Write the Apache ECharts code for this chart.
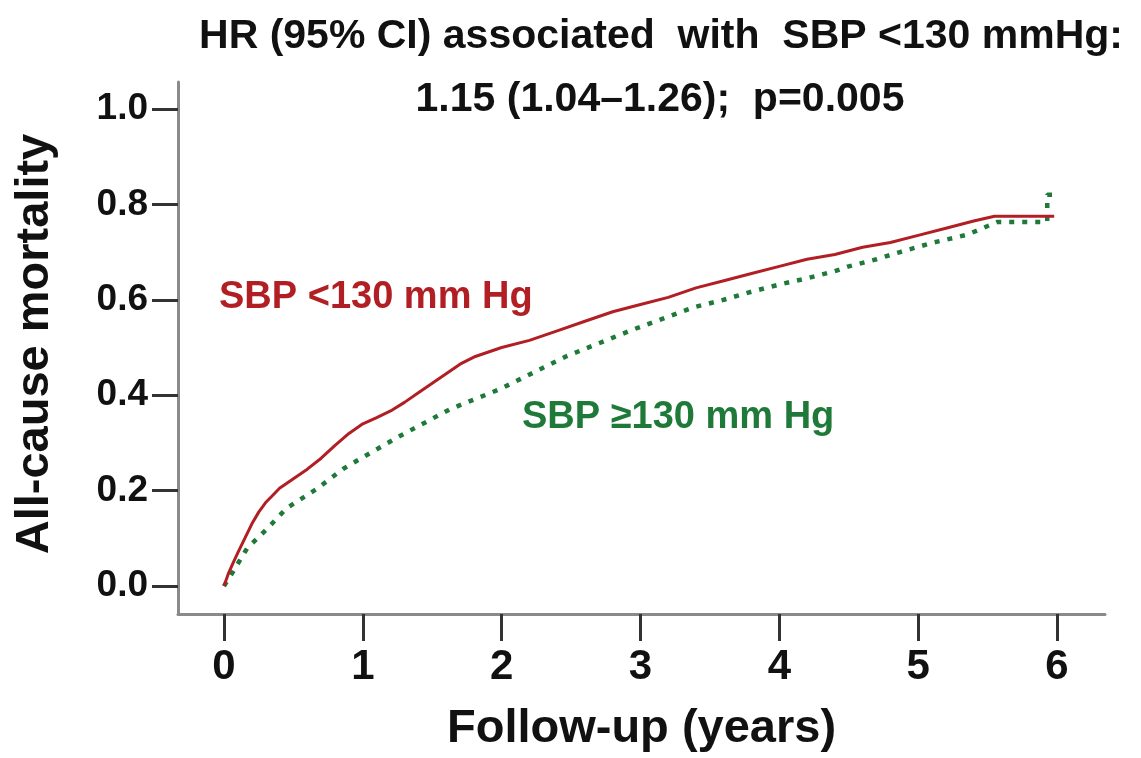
<!DOCTYPE html>
<html>
<head>
<meta charset="utf-8">
<script src="https://cdn.jsdelivr.net/npm/echarts@6/dist/echarts.min.js"></script>
<style>html,body{margin:0;padding:0;background:#fff;}#c{width:1141px;height:758px;}</style>
</head>
<body>
<div id="c"></div>
<script>
// ---- data ----
const xTicks = [0, 1, 2, 3, 4, 5, 6];
const yTicks = [0, 0.2, 0.4, 0.6, 0.8, 1.0];
const lowTime = [0, 0.03, 0.06, 0.1, 0.15, 0.2, 0.25, 0.3, 0.35, 0.4, 0.45, 0.5, 0.6, 0.7, 0.8, 0.9, 1.0, 1.1, 1.2, 1.3, 1.4, 1.5, 1.6, 1.7, 1.8, 1.9, 2.0, 2.2, 2.4, 2.6, 2.8, 3.0, 3.2, 3.4, 3.6, 3.8, 4.0, 4.2, 4.4, 4.6, 4.8, 5.0, 5.2, 5.4, 5.55, 5.7, 5.98];
const lowMort = [0, 0.025, 0.045, 0.07, 0.10, 0.13, 0.155, 0.175, 0.19, 0.205, 0.215, 0.225, 0.245, 0.268, 0.295, 0.32, 0.34, 0.353, 0.367, 0.385, 0.405, 0.425, 0.445, 0.465, 0.48, 0.49, 0.50, 0.515, 0.535, 0.555, 0.575, 0.59, 0.605, 0.625, 0.64, 0.655, 0.67, 0.685, 0.695, 0.71, 0.72, 0.735, 0.75, 0.765, 0.775, 0.775, 0.775];
const highTime = [0, 0.065, 0.166, 0.31, 0.45, 0.67, 0.86, 1.0, 1.27, 1.63, 1.99, 2.47, 2.95, 3.38, 3.6, 3.8, 4.0, 4.2, 4.4, 4.5, 4.7, 4.87, 5.11, 5.35, 5.57, 5.93, 5.93, 5.98];
const highMort = [0, 0.03, 0.079, 0.12, 0.163, 0.204, 0.246, 0.27, 0.315, 0.371, 0.413, 0.482, 0.538, 0.584, 0.60, 0.617, 0.632, 0.645, 0.66, 0.67, 0.685, 0.70, 0.72, 0.736, 0.763, 0.763, 0.82, 0.82];
const titleLines = ['HR (95% CI) associated  with  SBP <130 mmHg:', '1.15 (1.04\u20131.26);  p=0.005'];
const seriesNames = ['SBP <130 mm Hg', 'SBP \u2265130 mm Hg'];

const FONT = '"Liberation Sans", Arial, sans-serif';
const RED = '#b11f24';
const GREEN = '#1f7a3a';
const chart = echarts.init(document.getElementById('c'), null, {renderer: 'canvas'});
const pair = (xs, ys) => xs.map((x, i) => [x, ys[i]]);
const option = {
  backgroundColor: '#fff',
  animation: false,
  grid: {left: 178, right: 36, top: 82, bottom: 142, containLabel: false},
  xAxis: {
    type: 'value', min: -0.3313, max: 6.346,
    name: 'Follow-up (years)', nameLocation: 'middle', nameGap: 92,
    nameTextStyle: {fontFamily: FONT, fontWeight: 'bold', fontSize: 47, color: '#111'},
    axisLine: {show: true, onZero: false, lineStyle: {color: '#8a8a8a', width: 3}},
    axisTick: {show: true, inside: false, length: 27, customValues: xTicks, lineStyle: {color: '#333', width: 3}},
    axisLabel: {customValues: xTicks, margin: 32, fontFamily: FONT, fontWeight: 'bold', fontSize: 42, color: '#111'},
    splitLine: {show: false}
  },
  yAxis: {
    type: 'value', min: -0.0585, max: 1.0564,
    name: 'All-cause mortality', nameLocation: 'middle', nameGap: 119, nameRotate: 90,
    nameTextStyle: {fontFamily: FONT, fontWeight: 'bold', fontSize: 47, color: '#111', padding: [0, 0, 0, 8]},
    axisLine: {show: true, onZero: false, lineStyle: {color: '#8a8a8a', width: 3}},
    axisTick: {show: true, inside: false, length: 26, customValues: yTicks, lineStyle: {color: '#333', width: 3}},
    axisLabel: {customValues: yTicks, margin: 30, fontFamily: FONT, fontWeight: 'bold', fontSize: 37, color: '#111',
      formatter: v => v.toFixed(1)},
    splitLine: {show: false}
  },
  series: [
    {name: seriesNames[1], type: 'line', data: pair(highTime, highMort), showSymbol: false, symbol: 'none',
      lineStyle: {color: GREEN, width: 4.5, type: [5, 8], cap: 'butt'}, z: 2},
    {name: seriesNames[0], type: 'line', data: pair(lowTime, lowMort), showSymbol: false, symbol: 'none',
      lineStyle: {color: RED, width: 3}, z: 3}
  ],
  graphic: [
    {type: 'text', x: 661, y: 37, style: {text: titleLines[0], font: 'bold 41px ' + FONT, fill: '#111', align: 'center', verticalAlign: 'middle'}},
    {type: 'text', x: 660, y: 100, style: {text: titleLines[1], font: 'bold 41px ' + FONT, fill: '#111', align: 'center', verticalAlign: 'middle'}},
    {type: 'text', x: 219, y: 298, style: {text: seriesNames[0], font: 'bold 38px ' + FONT, fill: RED, align: 'left', verticalAlign: 'middle'}},
    {type: 'text', x: 522, y: 418, style: {text: seriesNames[1], font: 'bold 38px ' + FONT, fill: GREEN, align: 'left', verticalAlign: 'middle'}}
  ]
};
chart.setOption(option);
</script>
</body>
</html>
